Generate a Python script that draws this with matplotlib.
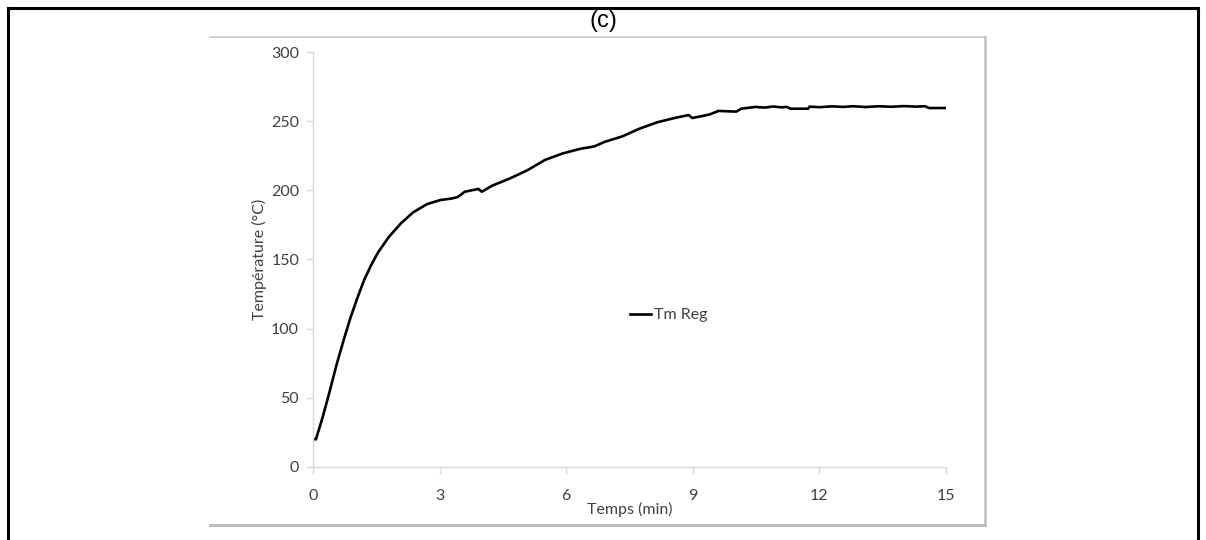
import numpy as np
import matplotlib.pyplot as plt
from matplotlib.lines import Line2D

plt.rcParams['font.family'] = ['Lato', 'DejaVu Sans']

# data (time in min, temperature in degC)
t_min = [0.0, 0.07, 0.23, 0.39, 0.56, 0.72, 0.89, 1.05, 1.21, 1.38, 1.54, 1.79,
         2.08, 2.37, 2.70, 3.02, 3.27, 3.42, 3.6, 3.92, 4.0, 4.25, 4.66, 5.08,
         5.5, 5.91, 6.33, 6.66, 6.91, 7.33, 7.74, 8.16, 8.57, 8.9, 8.99, 9.24,
         9.4, 9.61, 10.03, 10.15, 10.48, 10.7, 10.9, 11.1, 11.23, 11.32, 11.73,
         11.77, 12.0, 12.3, 12.56, 12.8, 13.1, 13.4, 13.7, 14.0, 14.3, 14.5,
         14.6, 15.0]
temp = [20.2, 20.0, 36, 54, 74, 91, 108, 122, 135, 146, 155, 166,
        176, 184, 190, 193, 194, 195, 199, 201, 199, 203.4, 208.5, 214.5,
        222, 226.6, 230, 231.7, 235, 239, 244.6, 249.2, 252.3, 254.4, 252.3, 253.8,
        254.9, 257.4, 256.9, 259, 260.3, 259.8, 260.6, 260.0, 260.3, 259, 259,
        260.5, 260.1, 260.7, 260.3, 260.8, 260.2, 260.8, 260.4, 260.9, 260.5, 260.8,
        259.5, 259.5]

xticks = [0, 3, 6, 9, 12, 15]
yticks = [0, 50, 100, 150, 200, 250, 300]

grey_ax = '#d9d9d9'
txt = '#404040'

fig = plt.figure(figsize=(12.06, 5.40), dpi=100)

# outer black frame (bottom edge runs off the picture)
for xs, ys in [([0.007, 0.993], [0.985, 0.985]),
               ([0.007, 0.007], [0.985, 0.0]),
               ([0.993, 0.993], [0.985, 0.0])]:
    fig.add_artist(Line2D(xs, ys, color='black', lw=2.2, transform=fig.transFigure))

# grey chart-area frame
fig.add_artist(Line2D([0.174, 0.8167], [0.9315, 0.9315], color='#c8c8c8', lw=1.2,
                      transform=fig.transFigure))
fig.add_artist(Line2D([0.8167, 0.8167], [0.9315, 0.0278], color='#bdbdbd', lw=1.8,
                      transform=fig.transFigure))
fig.add_artist(Line2D([0.174, 0.8167], [0.0278, 0.0278], color='#bdbdbd', lw=2.2,
                      transform=fig.transFigure))

fig.text(0.5, 0.962, '(c)', ha='center', va='center', fontsize=17,
         family=['Liberation Sans', 'DejaVu Sans'], color='black')

ax = fig.add_axes([0.2595, 0.1352, 0.5249, 0.7685])
ax.plot(t_min, temp, color='black', lw=1.9, label='Tm Reg')

ax.set_xlim(0, 15)
ax.set_ylim(0, 300)
ax.set_xticks(xticks)
ax.set_yticks(yticks)
for s in ['top', 'right']:
    ax.spines[s].set_visible(False)
for s in ['left', 'bottom']:
    ax.spines[s].set_color(grey_ax)
    ax.spines[s].set_linewidth(1.0)
ax.tick_params(axis='both', direction='out', length=5, width=1, color=grey_ax,
               labelcolor=txt, labelsize=11.5)
ax.tick_params(axis='x', pad=11)
ax.tick_params(axis='y', pad=5)

ax.set_xlabel('Temps (min)', fontsize=11.5, color=txt, labelpad=-1)
ax.set_ylabel('Température (°C)', fontsize=11.5, color=txt, labelpad=3)

ax.legend(loc='center left', bbox_to_anchor=(0.478, 0.366), frameon=False,
          handlelength=1.3, handletextpad=0.2, fontsize=11.5, labelcolor=txt)

fig.savefig('out.png', dpi=100)
